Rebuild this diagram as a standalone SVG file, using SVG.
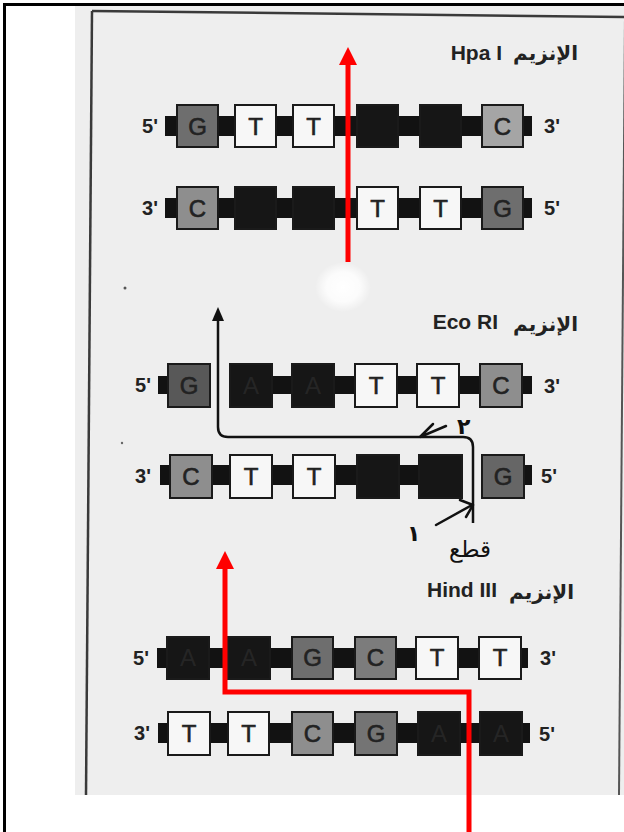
<svg xmlns="http://www.w3.org/2000/svg" width="624" height="832" viewBox="0 0 624 832">
<style>
.bar{fill:#121212}
.b{stroke:#1a1a1a;stroke-width:2}
.w{fill:#f7f7f7}
.k{fill:#161616}
.g{fill:#6e6e6e}
.c{fill:#8e8e8e}
.l{font-family:"Liberation Sans",Arial,sans-serif;font-size:24px;fill:#222;stroke:#222;stroke-width:0.6;text-anchor:middle}
.la{font-family:"Liberation Sans",Arial,sans-serif;font-size:24px;fill:#333;text-anchor:middle;opacity:.55}
.end{font-family:"Liberation Sans",Arial,sans-serif;font-size:20px;font-weight:bold;fill:#222;text-anchor:middle}
.en{font-family:"Liberation Sans",Arial,sans-serif;font-size:21px;font-weight:bold;fill:#222;text-anchor:end}
.ar{font-family:"DejaVu Sans",sans-serif;font-size:20px;font-weight:bold;fill:#222;text-anchor:end}
.hand{font-family:"DejaVu Sans",sans-serif;font-size:22px;fill:#111}
.red{stroke:#ff0000;stroke-width:5;fill:none}
</style>
<defs>
<radialGradient id="blob"><stop offset="0" stop-color="#fff" stop-opacity="1"/><stop offset="0.6" stop-color="#fff" stop-opacity="0.8"/><stop offset="1" stop-color="#fff" stop-opacity="0"/></radialGradient>
</defs>
<rect width="624" height="832" fill="#fff"/>
<g id="scan">
<rect x="75" y="6" width="549" height="789" fill="#eeeeee"/>
<ellipse cx="343" cy="287" rx="28" ry="25" fill="url(#blob)"/>
<path d="M92,11 L624,17" stroke="#3a3a3a" stroke-width="2.5" fill="none"/>
<path d="M92,11 L86,795" stroke="#3a3a3a" stroke-width="2.5" fill="none"/>
<path d="M625,17 L619,795" stroke="#555" stroke-width="2" fill="none"/>
<circle cx="125" cy="288" r="1.5" fill="#555"/>
<circle cx="122" cy="443" r="1.2" fill="#666"/>
</g>
<g id="frame" stroke="#000" stroke-width="3" fill="none">
<path d="M4.5,832 V4.5 H624"/>
</g>

<g id="hpa-label">
<text class="en" x="502" y="60">Hpa I</text>
<text class="ar" x="578" y="60">الإنزيم</text>
</g>
<g id="hpa-top">
<rect class="bar" x="165" y="116" width="367" height="20"/>
<rect class="b g" x="177" y="105" width="41" height="42"/>
<rect class="b w" x="235" y="105" width="41" height="42"/>
<rect class="b w" x="293" y="105" width="41" height="42"/>
<rect class="b k" x="357" y="105" width="41" height="42"/>
<rect class="b k" x="420" y="105" width="41" height="42"/>
<rect class="b c" x="482" y="105" width="41" height="42" style="fill:#a5a5a5"/>
<text class="l" x="197.5" y="135">G</text>
<text class="l" x="255.5" y="135">T</text>
<text class="l" x="313.5" y="135">T</text>
<text class="l" x="502.5" y="135">C</text>
<text class="end" x="150" y="133">5'</text>
<text class="end" x="552" y="133">3'</text>
</g>
<g id="hpa-bottom">
<rect class="bar" x="165" y="198" width="367" height="20"/>
<rect class="b c" x="177" y="187" width="41" height="42"/>
<rect class="b k" x="235" y="187" width="41" height="42"/>
<rect class="b k" x="293" y="187" width="41" height="42"/>
<rect class="b w" x="357" y="187" width="41" height="42"/>
<rect class="b w" x="420" y="187" width="41" height="42"/>
<rect class="b g" x="482" y="187" width="41" height="42"/>
<text class="l" x="197.5" y="217">C</text>
<text class="l" x="377.5" y="217">T</text>
<text class="l" x="440.5" y="217">T</text>
<text class="l" x="502.5" y="217">G</text>
<text class="end" x="150" y="215">3'</text>
<text class="end" x="552" y="215">5'</text>
</g>

<g id="eco-label">
<text class="en" x="498" y="329">Eco RI</text>
<text class="ar" x="578" y="331">الإنزيم</text>
</g>
<g id="eco-top">
<rect class="bar" x="158" y="376" width="52" height="18"/>
<rect class="bar" x="230" y="376" width="302" height="18"/>
<rect class="b g" x="168" y="364" width="42" height="43" style="fill:#585858"/>
<rect class="b k" x="230" y="364" width="42" height="43"/>
<rect class="b k" x="292" y="364" width="42" height="43"/>
<rect class="b w" x="355" y="364" width="42" height="43"/>
<rect class="b w" x="417" y="364" width="42" height="43"/>
<rect class="b c" x="480" y="364" width="42" height="43"/>
<text class="l" x="189" y="394">G</text>
<text class="la" x="251" y="394">A</text>
<text class="la" x="313" y="394">A</text>
<text class="l" x="376" y="394">T</text>
<text class="l" x="438" y="394">T</text>
<text class="l" x="501" y="394">C</text>
<text class="end" x="143" y="392">5'</text>
<text class="end" x="552" y="393">3'</text>
</g>
<g id="eco-bottom">
<rect class="bar" x="160" y="465" width="302" height="20"/>
<rect class="bar" x="482" y="465" width="50" height="20"/>
<rect class="b c" x="170" y="455" width="42" height="43"/>
<rect class="b w" x="230" y="455" width="42" height="43"/>
<rect class="b w" x="293" y="455" width="42" height="43"/>
<rect class="b k" x="357" y="455" width="42" height="43"/>
<rect class="b k" x="419" y="455" width="43" height="43"/>
<rect class="b g" x="482" y="455" width="42" height="43" style="fill:#666"/>
<text class="l" x="191" y="485">C</text>
<text class="l" x="251" y="485">T</text>
<text class="l" x="314" y="485">T</text>
<text class="l" x="503" y="485">G</text>
<text class="end" x="143" y="483">3'</text>
<text class="end" x="549" y="483">5'</text>
</g>

<g id="hind-label">
<text class="en" x="497" y="597">Hind III</text>
<text class="ar" x="574" y="599">الإنزيم</text>
</g>
<g id="hind-top">
<rect class="bar" x="157" y="648" width="371" height="20"/>
<rect class="b k" x="167" y="637" width="42" height="42"/>
<rect class="b k" x="228" y="637" width="42" height="42"/>
<rect class="b g" x="292" y="637" width="41" height="42"/>
<rect class="b c" x="355" y="637" width="41" height="42" style="fill:#7c7c7c"/>
<rect class="b w" x="416" y="637" width="42" height="42"/>
<rect class="b w" x="479" y="637" width="42" height="42"/>
<text class="la" x="188" y="666">A</text>
<text class="la" x="249" y="666">A</text>
<text class="l" x="312.5" y="666">G</text>
<text class="l" x="375.5" y="666">C</text>
<text class="l" x="437" y="666">T</text>
<text class="l" x="500" y="666">T</text>
<text class="end" x="141" y="665">5'</text>
<text class="end" x="548" y="665">3'</text>
</g>
<g id="hind-bottom">
<rect class="bar" x="158" y="723" width="372" height="20"/>
<rect class="b w" x="168" y="712" width="42" height="43"/>
<rect class="b w" x="228" y="712" width="41" height="43"/>
<rect class="b c" x="292" y="712" width="41" height="43"/>
<rect class="b g" x="355" y="712" width="42" height="43" style="fill:#747474"/>
<rect class="b k" x="418" y="712" width="42" height="43"/>
<rect class="b k" x="480" y="712" width="42" height="43"/>
<text class="l" x="189" y="742">T</text>
<text class="l" x="248.5" y="742">T</text>
<text class="l" x="312.5" y="742">C</text>
<text class="l" x="376" y="742">G</text>
<text class="la" x="439" y="742">A</text>
<text class="la" x="501" y="742">A</text>
<text class="end" x="142" y="740">3'</text>
<text class="end" x="547" y="741">5'</text>
</g>

<g id="connectors">
<path d="M218,318 V427 Q218,437 228,437 H463 Q473,437 473,447 V523" fill="none" stroke="#111" stroke-width="2.5"/>
<polygon points="218,307 212,321 224,321" fill="#111"/>
<path d="M433,424 L420,437 L446,426" fill="none" stroke="#111" stroke-width="2.5" stroke-linecap="round"/>
<path d="M436,525 L472,505" fill="none" stroke="#111" stroke-width="2.5" stroke-linecap="round"/>
<path d="M460,500 L473,505 L466,517" fill="none" stroke="#111" stroke-width="2.5" stroke-linecap="round" stroke-linejoin="round"/>
<text class="hand" x="457" y="434" style="font-weight:bold">٢</text>
<text class="hand" x="407" y="541" style="font-weight:bold">١</text>
<text class="hand" x="449" y="557" style="font-size:23px">قطع</text>
<path class="red" d="M348,262 V62"/>
<polygon points="348,47 339,65 357,65" fill="#ff0000"/>
<path class="red" d="M469,832 V692 H225 V566"/>
<polygon points="225,551 216,569 234,569" fill="#ff0000"/>
</g>
</svg>
